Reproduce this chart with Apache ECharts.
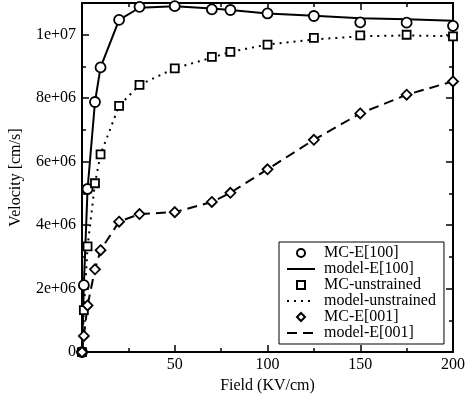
<!DOCTYPE html>
<html>
<head>
<meta charset="utf-8">
<script src="https://cdn.jsdelivr.net/npm/echarts@6/dist/echarts.min.js"></script>
<style>
  html, body { margin: 0; padding: 0; background: #fff; }
  #chart { width: 468px; height: 399px; }
</style>
</head>
<body>
<div id="chart"></div>
<script>
// Electric field (KV/cm) at which velocities were sampled
const field = [0, 1, 3, 7, 10, 20, 31, 50, 70, 80, 100, 125, 150, 175, 200];

// Monte Carlo drift velocities (cm/s)
const mcE100 = [0, 2.11e6, 5.14e6, 7.88e6, 8.97e6, 1.047e7, 1.088e7, 1.09e7, 1.08e7, 1.078e7, 1.067e7, 1.059e7, 1.039e7, 1.038e7, 1.028e7];
const mcUnstrained = [0, 1.32e6, 3.33e6, 5.32e6, 6.23e6, 7.76e6, 8.42e6, 8.94e6, 9.30e6, 9.46e6, 9.69e6, 9.90e6, 9.98e6, 1.0e7, 9.95e6];
const mcE001 = [0, 0.51e6, 1.47e6, 2.61e6, 3.21e6, 4.11e6, 4.35e6, 4.41e6, 4.73e6, 5.02e6, 5.76e6, 6.69e6, 7.52e6, 8.11e6, 8.53e6];

// Model curves (cm/s)
const modelE100 = [0, 2.11e6, 5.14e6, 7.88e6, 8.97e6, 1.047e7, 1.085e7, 1.09e7, 1.083e7, 1.078e7, 1.067e7, 1.06e7, 1.052e7, 1.049e7, 1.044e7];
const modelUnstrained = [0, 1.32e6, 3.33e6, 5.32e6, 6.23e6, 7.76e6, 8.42e6, 8.94e6, 9.28e6, 9.46e6, 9.69e6, 9.85e6, 9.95e6, 9.98e6, 9.95e6];
const modelE001 = [0, 0.51e6, 1.47e6, 2.61e6, 3.21e6, 4.11e6, 4.35e6, 4.41e6, 4.73e6, 5.02e6, 5.76e6, 6.69e6, 7.52e6, 8.11e6, 8.53e6];

const seriesNames = ['MC-E[100]', 'model-E[100]', 'MC-unstrained', 'model-unstrained', 'MC-E[001]', 'model-E[001]'];

const xTicks = { min: 0, max: 200, interval: 50 };
const yTicks = { min: 0, max: 1.1e7, interval: 2e6 };

const FONT = 'Liberation Serif';

function pairs(xs, ys) {
  return xs.map((x, i) => [x, ys[i]]);
}

function sciLabel(v) {
  if (v === 0) return '0';
  const exp = Math.floor(Math.log10(v));
  const mant = Math.round(v / Math.pow(10, exp));
  return mant + 'e+' + String(exp).padStart(2, '0');
}

function markerSeries(name, ys, symbol, size) {
  return {
    name: name,
    type: 'line',
    data: pairs(field, ys),
    symbol: symbol,
    symbolSize: size,
    showAllSymbol: true,
    lineStyle: { width: 0, opacity: 0 },
    itemStyle: { color: '#fff', borderColor: '#000', borderWidth: 1.8 },
    z: 5,
    silent: true,
    animation: false
  };
}

function modelSeries(name, ys, dash) {
  return {
    name: name,
    type: 'line',
    data: pairs(field, ys),
    symbol: 'none',
    lineStyle: { color: '#000', width: 2, type: dash },
    itemStyle: { color: '#000' },
    z: 3,
    silent: true,
    animation: false
  };
}

// Legend entries: model curves show only their line, no marker
const legendData = seriesNames.map(name =>
  name.startsWith('model')
    ? { name: name, itemStyle: { opacity: 0 } }
    : { name: name }
);

const axisCommon = {
  axisLine: { show: true, onZero: false, lineStyle: { color: '#000', width: 2 } },
  axisTick: { show: true, inside: true, length: 7, lineStyle: { color: '#000', width: 1.5 } },
  minorTick: { show: true, splitNumber: 2, length: 4, lineStyle: { color: '#000', width: 1.5 } },
  splitLine: { show: false },
  minorSplitLine: { show: false }
};

const chart = echarts.init(document.getElementById('chart'), null, { renderer: 'canvas' });

chart.setOption({
  animation: false,
  backgroundColor: '#fff',
  grid: { left: 81, right: 13, top: 3, bottom: 41, containLabel: false },
  textStyle: { fontFamily: FONT },
  legend: {
    orient: 'vertical',
    left: 279,
    top: 242,
    data: legendData,
    itemWidth: 28,
    itemHeight: 10,
    itemGap: 0,
    padding: [3, 8, 3, 7],
    backgroundColor: '#fff',
    borderColor: '#000',
    borderWidth: 1,
    borderRadius: 0,
    selectedMode: false,
    textStyle: { fontFamily: FONT, fontSize: 16, color: '#000', lineHeight: 16, padding: [0, 0, 0, 4] }
  },
  xAxis: [
    Object.assign({
      type: 'value', position: 'bottom',
      min: xTicks.min, max: xTicks.max, interval: xTicks.interval,
      name: 'Field (KV/cm)', nameLocation: 'middle', nameGap: 20,
      nameTextStyle: { fontFamily: FONT, fontSize: 16, color: '#000' },
      axisLabel: {
        fontFamily: FONT, fontSize: 16, color: '#000', margin: 5,
        formatter: v => (v === 0 ? '' : String(v))
      }
    }, axisCommon),
    Object.assign({
      type: 'value', position: 'top',
      min: xTicks.min, max: xTicks.max, interval: xTicks.interval,
      axisLabel: { show: false }
    }, axisCommon)
  ],
  yAxis: [
    Object.assign({
      type: 'value', position: 'left',
      min: yTicks.min, max: yTicks.max, interval: yTicks.interval,
      name: 'Velocity [cm/s]', nameLocation: 'middle', nameGap: 58,
      nameTextStyle: { fontFamily: FONT, fontSize: 16, color: '#000' },
      axisLabel: {
        fontFamily: FONT, fontSize: 16, color: '#000', margin: 6,
        showMaxLabel: false, formatter: sciLabel
      }
    }, axisCommon),
    Object.assign({
      type: 'value', position: 'right',
      min: yTicks.min, max: yTicks.max, interval: yTicks.interval,
      axisLabel: { show: false }
    }, axisCommon)
  ],
  series: [
    markerSeries(seriesNames[0], mcE100, 'circle', 10),
    modelSeries(seriesNames[1], modelE100, 'solid'),
    markerSeries(seriesNames[2], mcUnstrained, 'rect', 8),
    modelSeries(seriesNames[3], modelUnstrained, [2, 5]),
    markerSeries(seriesNames[4], mcE001, 'diamond', 10),
    modelSeries(seriesNames[5], modelE001, [10, 6])
  ]
});
</script>
</body>
</html>
